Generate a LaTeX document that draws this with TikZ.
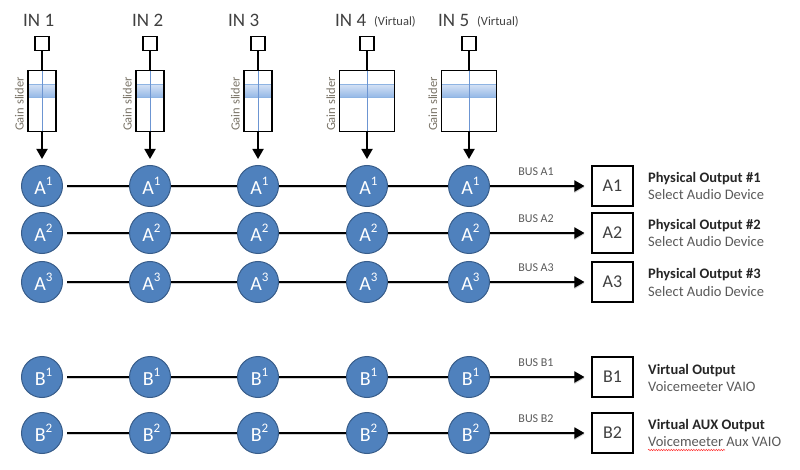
\documentclass[tikz,border=0pt]{standalone}
\usepackage{fontspec}
\setmainfont{Carlito}
\usetikzlibrary{arrows.meta,decorations.pathmorphing}
\definecolor{circfill}{HTML}{4F81BD}
\definecolor{circdraw}{HTML}{385D8A}
\definecolor{bandtop}{HTML}{D3E1F5}
\definecolor{bandbot}{HTML}{93B7E6}
\definecolor{banddraw}{HTML}{8EB4E3}
\definecolor{guide}{HTML}{6C95D2}
\definecolor{txtgray}{HTML}{595959}
\definecolor{labgray}{HTML}{404040}
\definecolor{sidegray}{HTML}{7A7468}
\newcommand\bsup[2]{#1\raisebox{9pt}{\fontsize{13}{13}\selectfont #2}}
\begin{document}
\begin{tikzpicture}[x=1pt,y=-1pt,
  busnode/.style={circle, fill=circfill, draw=circdraw, line width=1pt,
    minimum size=41pt, inner sep=0pt, text=white,
    font=\fontsize{20}{20}\selectfont},
  outbox/.style={draw, line width=1.1pt, minimum width=41pt, minimum height=40pt,
    inner sep=0pt, text=labgray, font=\fontsize{18}{18}\selectfont},
  knob/.style={draw, line width=1.1pt, minimum size=14pt, inner sep=0pt},
  sliderbox/.style={draw, line width=1.1pt, minimum height=61pt, inner sep=0pt},
  band/.style={draw=banddraw, line width=0.6pt, top color=bandtop, bottom color=bandbot},
  guideline/.style={draw=guide, line width=0.6pt},
  stem/.style={line width=1.8pt},
  flow/.style={line width=1.8pt, -{Triangle[length=10pt,width=11pt]}},
  busline/.style={line width=1.8pt,
    preaction={draw=black!18, line width=2pt, transform canvas={yshift=-1.3pt}}},
  inlabel/.style={anchor=base west, inner sep=0pt, text=labgray, font=\fontsize{19}{19}\selectfont},
  virtlabel/.style={anchor=base west, inner sep=0pt, text=labgray, font=\fontsize{12.5}{12.5}\selectfont},
  gainlabel/.style={rotate=90, inner sep=0pt, text=sidegray, font=\fontsize{12.5}{12.5}\selectfont},
  buslabel/.style={inner sep=0pt, text=txtgray, font=\fontsize{12}{12}\selectfont},
  outtitle/.style={anchor=base west, inner sep=0pt, text=black!85, font=\bfseries\fontsize{14.5}{14.5}\selectfont},
  outsub/.style={anchor=base west, inner sep=0pt, text=txtgray, font=\fontsize{14.5}{14.5}\selectfont},
]
\useasboundingbox (0,0) rectangle (800,470);

% ---------- input labels ----------
\node[inlabel] (in1) at (23,27) {IN 1};
\node[inlabel] (in2) at (132,27) {IN 2};
\node[inlabel] (in3) at (228,27) {IN 3};
\node[inlabel] (in4) at (335,27) {IN 4};
\node[inlabel] (in5) at (438,27) {IN 5};
\node[virtlabel] (v4) at (374,25.5) {(Virtual)};
\node[virtlabel] (v5) at (477,25.5) {(Virtual)};

% ---------- sliders ----------
\foreach \i/\x/\w in {1/42/28, 2/150/28, 3/258/28, 4/367/55, 5/469/55} {
  \node[knob] (sq\i) at (\x,43.5) {};
  \node[sliderbox, minimum width=\w pt] (sl\i) at (\x,101) {};
  \fill[band] (\x-\w/2,84.5) rectangle (\x+\w/2,97.5);
  \draw[guideline] (sl\i.north) -- (sl\i.south);
  \draw[line width=1.1pt] (\x-\w/2,70.5) rectangle (\x+\w/2,131.5);
  \draw[stem] (sq\i) -- (sl\i.north);
  \node[gainlabel, anchor=south] (gl\i) at (\x-\w/2-4,104) {Gain slider};
}

% ---------- bus nodes ----------
\foreach \r/\y/\L/\n in {a1/186/A/1, a2/233/A/2, a3/282/A/3, b1/377/B/1, b2/433/B/2} {
  \foreach \c/\x in {1/42, 2/150, 3/258, 4/367, 5/469} {
    \node[busnode] (\r c\c) at (\x,\y) {\hspace*{3pt}\bsup{\L}{\n}};
  }
}

% ---------- input arrows ----------
\foreach \c in {1,...,5} {
  \draw[flow, shorten >=6pt] (sl\c.south) -- (a1c\c.north);
}

% ---------- output boxes ----------
\node[outbox] (oa1) at (612.5,186) {A1};
\node[outbox] (oa2) at (612.5,233) {A2};
\node[outbox] (oa3) at (612.5,282) {A3};
\node[outbox] (ob1) at (612.5,377) {B1};
\node[outbox] (ob2) at (612.5,433) {B2};

% ---------- bus lines ----------
\foreach \r/\o in {a1/oa1, a2/oa2, a3/oa3, b1/ob1, b2/ob2} {
  \draw[busline, shorten <=4pt] (\r c1) -- (\r c2);
  \draw[busline] (\r c2) -- (\r c3);
  \draw[busline] (\r c3) -- (\r c4);
  \draw[busline] (\r c4) -- (\r c5);
  \draw[busline, -{Triangle[length=10pt,width=11pt]}, shorten >=7pt] (\r c5) -- (\o);
}
\node[buslabel] (bla1) at (536,172) {BUS A1};
\node[buslabel] (bla2) at (536,219) {BUS A2};
\node[buslabel] (bla3) at (536,268) {BUS A3};
\node[buslabel] (blb1) at (536,363) {BUS B1};
\node[buslabel] (blb2) at (536,419) {BUS B2};

% ---------- output descriptions ----------
\node[outtitle] (t1) at (648,183) {Physical Output \#1};
\node[outsub]   (s1) at (648,200) {Select Audio Device};
\node[outtitle] (t2) at (648,230) {Physical Output \#2};
\node[outsub]   (s2) at (648,247) {Select Audio Device};
\node[outtitle] (t3) at (648,279) {Physical Output \#3};
\node[outsub]   (s3) at (648,296) {Select Audio Device};
\node[outtitle] (t4) at (648,374.5) {Virtual Output};
\node[outsub]   (s4) at (648,391) {Voicemeeter VAIO};
\node[outtitle] (t5) at (648,429.5) {Virtual AUX Output};
\node[outsub]   (s5) at (648,446.5) {Voicemeeter Aux VAIO};
\draw[red!80, line width=0.5pt, decorate,
  decoration={snake, amplitude=0.7pt, segment length=2.5pt}]
  (648,450) -- (725,450);
\end{tikzpicture}
\end{document}
